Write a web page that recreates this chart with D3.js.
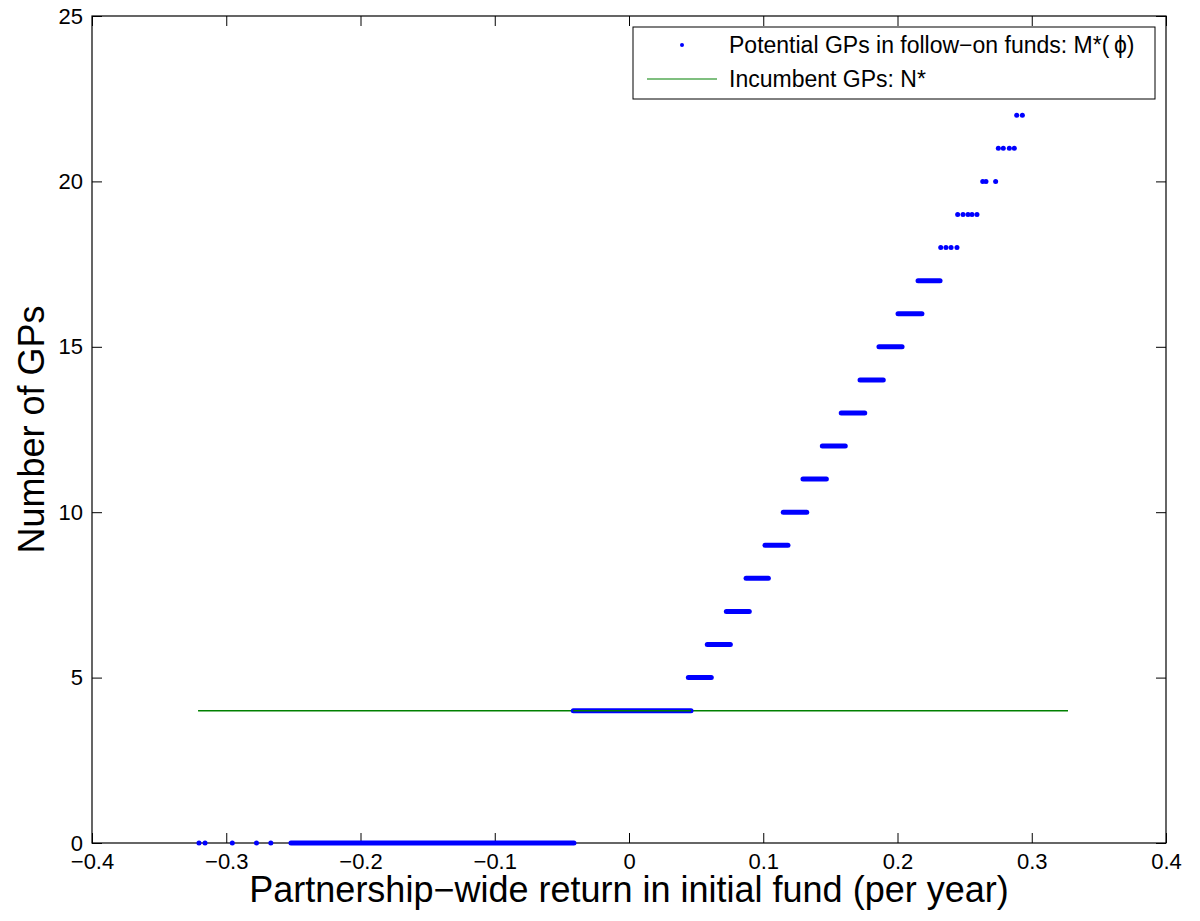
<!DOCTYPE html>
<html lang="en">
<head>
    <meta charset="UTF-8">
    <title>Number of GPs vs partnership-wide return</title>
    <script src="https://d3js.org/d3.v7.min.js"></script>
    <style>
        body { margin: 0; background: #fff; }
        text { font-family: "Liberation Sans", Arial, sans-serif; fill: #000; }
    </style>
</head>
<body>
    <script>
        // Tick values
        const xTicks = [-0.4, -0.3, -0.2, -0.1, 0, 0.1, 0.2, 0.3, 0.4];
        const yTicks = [0, 5, 10, 15, 20, 25];

        // Dense runs of M*(phi) points: [level, first return, last return]
        const denseRuns = [
            [0, -0.2518, -0.0410],
            [4, -0.0415, 0.0462],
            [5, 0.0442, 0.0613],
            [6, 0.0583, 0.0755],
            [7, 0.0725, 0.0896],
            [8, 0.0872, 0.1038],
            [9, 0.1013, 0.1184],
            [10, 0.1149, 0.1324],
            [11, 0.1296, 0.1470],
            [12, 0.1440, 0.1611],
            [13, 0.1581, 0.1756],
            [14, 0.1721, 0.1894],
            [15, 0.1862, 0.2034],
            [16, 0.2004, 0.2182],
            [17, 0.2153, 0.2317]
        ];

        // Isolated M*(phi) points: [return, level]
        const sparsePoints = [
            [-0.3203, 0], [-0.3158, 0], [-0.2955, 0], [-0.2775, 0], [-0.2668, 0],
            [0.2322, 18], [0.2361, 18], [0.2399, 18], [0.2443, 18],
            [0.2448, 19], [0.2488, 19], [0.2525, 19], [0.2555, 19], [0.2592, 19],
            [0.2635, 20], [0.2659, 20], [0.2731, 20],
            [0.2751, 21], [0.2788, 21], [0.2833, 21], [0.2870, 21],
            [0.2888, 22], [0.2930, 22]
        ];

        // Incumbent GPs N*
        const incumbentX = [-0.321, 0.327];
        const incumbentN = 4;

        const width = 1200;
        const height = 921;
        const margin = { left: 92, right: 34, top: 16, bottom: 78 };
        const innerW = width - margin.left - margin.right;
        const innerH = height - margin.top - margin.bottom;

        const svg = d3.select("body")
            .append("svg")
            .attr("width", width)
            .attr("height", height);

        const g = svg.append("g")
            .attr("transform", `translate(${margin.left},${margin.top})`);

        const x = d3.scaleLinear().domain([-0.4, 0.4]).range([0, innerW]);
        const y = d3.scaleLinear().domain([0, 25]).range([innerH, 0]);

        const fmtX = d => d === 0 ? "0" : d3.format(".1f")(d).replace("-", "\u2212");

        // Axes with inward ticks on all four sides
        const tickLen = 10;
        const axBottom = g.append("g")
            .attr("transform", `translate(0,${innerH})`)
            .call(d3.axisBottom(x).tickValues(xTicks).tickSize(-tickLen).tickPadding(10).tickFormat(fmtX));
        const axTop = g.append("g")
            .call(d3.axisTop(x).tickValues(xTicks).tickSize(-tickLen).tickFormat(""));
        const axLeft = g.append("g")
            .call(d3.axisLeft(y).tickValues(yTicks).tickSize(-tickLen).tickPadding(9));
        const axRight = g.append("g")
            .attr("transform", `translate(${innerW},0)`)
            .call(d3.axisRight(y).tickValues(yTicks).tickSize(-tickLen).tickFormat(""));

        [axBottom, axTop, axLeft, axRight].forEach(a => {
            a.select(".domain").remove();
            a.selectAll("line").attr("stroke", "#000").attr("stroke-width", 1);
            a.selectAll("text").style("font-size", "22px").style("font-family", '"Liberation Sans", Arial, sans-serif');
        });

        g.append("rect")
            .attr("width", innerW)
            .attr("height", innerH)
            .attr("fill", "none")
            .attr("stroke", "#000")
            .attr("stroke-width", 1.2);

        // Incumbent line
        g.append("line")
            .attr("x1", x(incumbentX[0]))
            .attr("x2", x(incumbentX[1]))
            .attr("y1", y(incumbentN))
            .attr("y2", y(incumbentN))
            .attr("stroke", "#008000")
            .attr("stroke-width", 1.5);

        // Dense runs of points
        g.append("g")
            .selectAll("line")
            .data(denseRuns)
            .join("line")
            .attr("x1", d => x(d[1]))
            .attr("x2", d => x(d[2]))
            .attr("y1", d => y(d[0]))
            .attr("y2", d => y(d[0]))
            .attr("stroke", "#0000ff")
            .attr("stroke-width", 5)
            .attr("stroke-linecap", "round");

        // Redraw the green line over the level-4 run, as in the original
        g.append("line")
            .attr("x1", x(denseRuns[1][1]))
            .attr("x2", x(denseRuns[1][2]))
            .attr("y1", y(incumbentN))
            .attr("y2", y(incumbentN))
            .attr("stroke", "#008000")
            .attr("stroke-width", 1.5);

        // Isolated points
        g.append("g")
            .selectAll("circle")
            .data(sparsePoints)
            .join("circle")
            .attr("cx", d => x(d[0]))
            .attr("cy", d => y(d[1]))
            .attr("r", 2.5)
            .attr("fill", "#0000ff");

        // Axis titles
        svg.append("text")
            .attr("x", margin.left + x(0))
            .attr("y", 902)
            .attr("text-anchor", "middle")
            .style("font-size", "36px")
            .text("Partnership\u2212wide return in initial fund (per year)");

        svg.append("text")
            .attr("transform", `translate(44,${margin.top + innerH / 2}) rotate(-90)`)
            .attr("text-anchor", "middle")
            .style("font-size", "36px")
            .text("Number of GPs");

        // Legend
        const lg = svg.append("g").attr("transform", "translate(633,27)");
        lg.append("rect")
            .attr("width", 522)
            .attr("height", 72)
            .attr("fill", "#fff")
            .attr("stroke", "#000")
            .attr("stroke-width", 1);
        lg.append("circle")
            .attr("cx", 49)
            .attr("cy", 18)
            .attr("r", 2)
            .attr("fill", "#0000ff");
        lg.append("text")
            .attr("x", 96)
            .attr("y", 26)
            .style("font-size", "23px")
            .text("Potential GPs in follow\u2212on funds: M*(\u2009\u03d5)");
        lg.append("line")
            .attr("x1", 14)
            .attr("x2", 84)
            .attr("y1", 52)
            .attr("y2", 52)
            .attr("stroke", "#008000")
            .attr("stroke-width", 1.2);
        lg.append("text")
            .attr("x", 96)
            .attr("y", 60)
            .style("font-size", "23px")
            .text("Incumbent GPs: N*");
    </script>
</body>
</html>
